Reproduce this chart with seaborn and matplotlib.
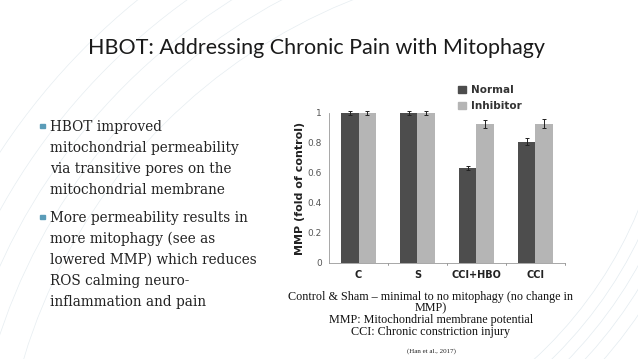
import matplotlib.pyplot as plt
import matplotlib.patches as mpatches
import pandas as pd
import seaborn as sns

# chart values
groups = ["C", "S", "CCI+HBO", "CCI"]
normal = [1.0, 1.0, 0.635, 0.81]
normal_err = [0.012, 0.012, 0.015, 0.025]
inhibitor = [1.0, 1.0, 0.925, 0.93]
inhibitor_err = [0.012, 0.012, 0.028, 0.03]
series = ["Normal", "Inhibitor"]
yticks = [0, 0.2, 0.4, 0.6, 0.8, 1]
ytick_labels = ["0", "0.2", "0.4", "0.6", "0.8", "1"]

title = "HBOT: Addressing Chronic Pain with Mitophagy"
bullets = [
    ["HBOT improved", "mitochondrial permeability", "via transitive pores on the",
     "mitochondrial membrane"],
    ["More permeability results in", "more mitophagy (see as",
     "lowered MMP) which reduces", "ROS calming neuro-", "inflammation and pain"],
]
captions = ["Control & Sham \u2013 minimal to no mitophagy (no change in", "MMP)",
            "MMP: Mitochondrial membrane potential", "CCI: Chronic constriction injury"]
source = "(Han et al., 2017)"

df = pd.DataFrame({
    "group": groups * 2,
    "kind": ["Normal"] * len(groups) + ["Inhibitor"] * len(groups),
    "mmp": normal + inhibitor,
    "err": normal_err + inhibitor_err,
})

sns.set_style("white")
fig = plt.figure(figsize=(6.38, 3.59), dpi=100)
fig.patch.set_facecolor("white")

# faint decorative arcs of the slide template
bg = fig.add_axes([0, 0, 1, 1])
bg.set_xlim(0, 638)
bg.set_ylim(359, 0)
bg.axis("off")
for r in [560, 590, 615, 640, 670]:
    bg.add_patch(mpatches.Circle((560, 520), r, fill=False,
                                 color="#e6edf1", lw=0.5))
for r in [420, 432, 444, 456, 470]:
    bg.add_patch(mpatches.Circle((250, 50), r, fill=False,
                                 color="#e3ebf0", lw=0.5))

bg.text(316, 48, title, ha="center", va="center", fontsize=15.5,
        family="Lato", color="#1a1a1a")

y = 127
for para in bullets:
    bg.add_patch(mpatches.Rectangle((40, y - 3.5), 4.5, 4.5, color="#5a9cb8"))
    for line in para:
        bg.text(50, y, line, ha="left", va="center", fontsize=9.8,
                family="DejaVu Serif", color="#222222")
        y += 21
    y += 7

cy = [297, 308.5, 320, 331.5]
for t, yy in zip(captions, cy):
    bg.text(431, yy, t, ha="center", va="center", fontsize=8.7,
            family="Liberation Serif", color="#111111")
bg.text(431, 351, source, ha="center", va="center", fontsize=5,
        family="Liberation Serif", color="#222222")

ax = fig.add_axes([329 / 638, 1 - 263 / 359, 236 / 638, 150 / 359])
sns.barplot(data=df, x="group", y="mmp", hue="kind", order=groups,
            hue_order=series, palette=["#4d4d4d", "#b5b5b5"], width=0.6,
            errorbar=None, saturation=1, linewidth=0, ax=ax, legend=False)

for container, kind in zip(ax.containers, series):
    errs = df.loc[df["kind"] == kind, "err"].tolist()
    for bar, e in zip(container, errs):
        ax.errorbar(bar.get_x() + bar.get_width() / 2, bar.get_height(), yerr=e,
                    color="#222222", lw=0.7, capsize=1.5, capthick=0.7,
                    clip_on=False)

ax.set_ylim(0, 1)
ax.set_xlim(-0.5, len(groups) - 0.5)
ax.set_yticks(yticks)
ax.set_yticklabels(ytick_labels)
ax.set_xlabel("")
ax.set_ylabel("MMP (fold of control)", fontsize=8, fontweight="bold",
              color="#222222", labelpad=2)
ax.tick_params(axis="y", labelsize=6.5, colors="#555555", length=2, width=0.5,
               pad=3)
ax.tick_params(axis="x", labelsize=7, length=0, pad=5)
for lab in ax.get_xticklabels():
    lab.set_fontweight("bold")
    lab.set_color("#222222")
for b in [0.5, 1.5, 2.5, 3.5]:
    ax.plot([b, b], [0, -0.015], color="#888888", lw=0.6, clip_on=False,
            transform=ax.get_xaxis_transform())
sns.despine(ax=ax, top=True, right=True)
ax.spines["left"].set_color("#999999")
ax.spines["bottom"].set_color("#999999")
ax.spines["left"].set_linewidth(0.6)
ax.spines["bottom"].set_linewidth(0.6)

handles = [mpatches.Patch(color="#4d4d4d", label="Normal"),
           mpatches.Patch(color="#b5b5b5", label="Inhibitor")]
leg = fig.legend(handles=handles, loc="upper left", bbox_to_anchor=(453 / 638, 1 - 80 / 359),
                 frameon=False, prop={"weight": "bold", "size": 7.5},
                 handlelength=0.7, handleheight=0.7, handletextpad=0.5,
                 labelspacing=0.6, borderpad=0)
for t in leg.get_texts():
    t.set_color("#333333")

fig.savefig("out.png", dpi=100, facecolor="white")
